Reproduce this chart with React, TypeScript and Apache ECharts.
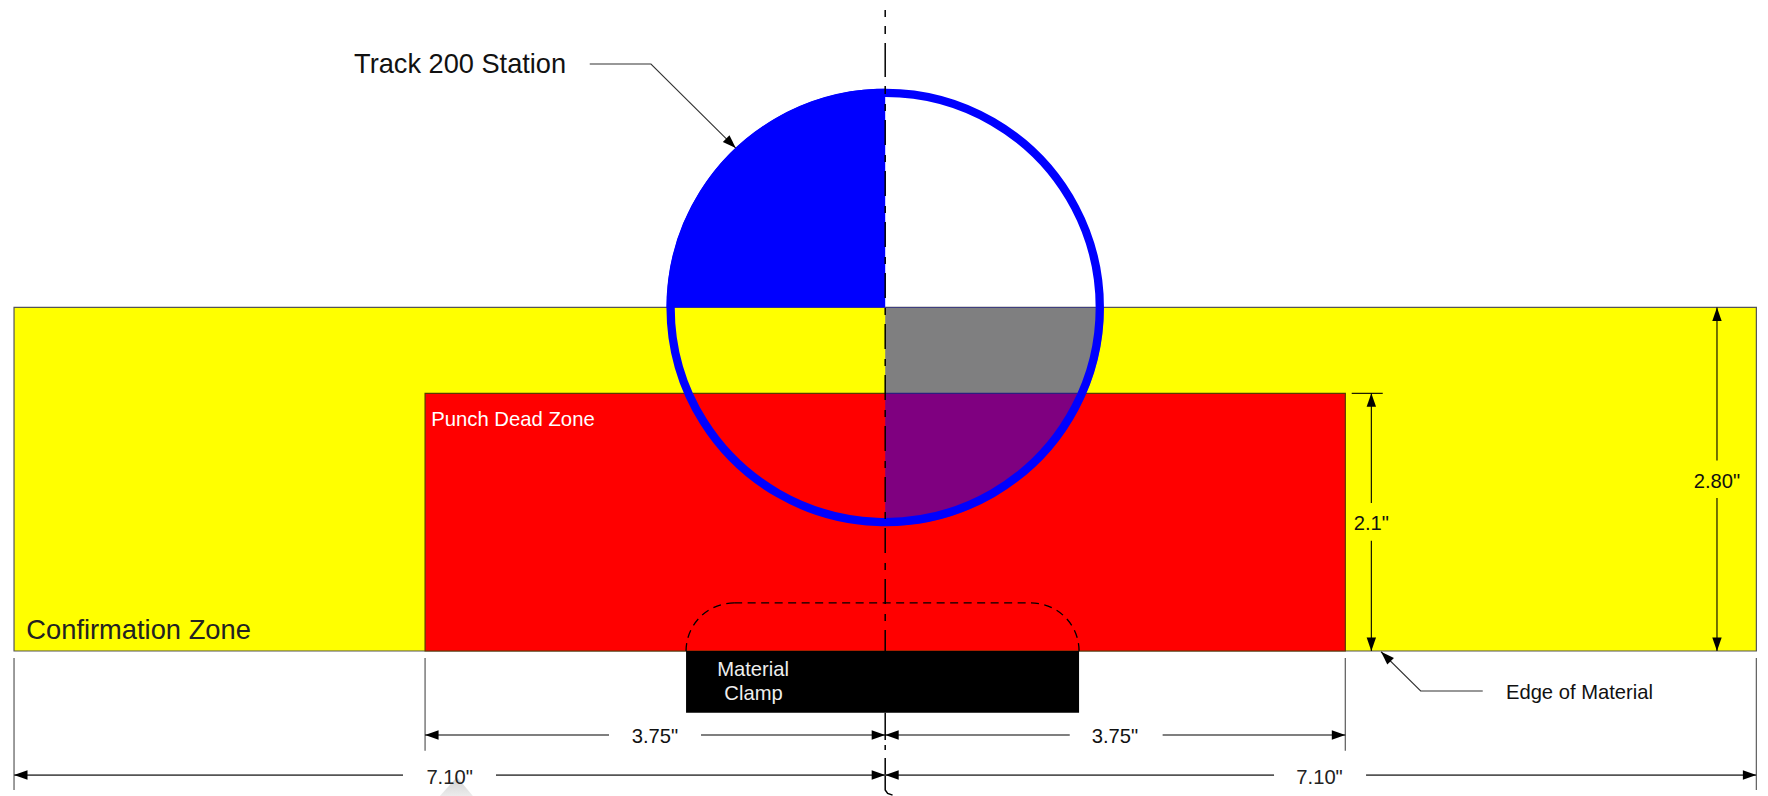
import React, { useEffect, useRef } from "react";
import * as echarts from "echarts";

// All geometry is in inches, measured from the station centre line (x) and the edge of material (y).
const PX_PER_INCH = 122.7;
const ORIGIN_PX = [885.2, 651];
const WIDTH = 1768;
const HEIGHT = 796;

const zoneRects = [
  [-7.1, 0, 7.1, 2.8],
  [-3.75, 0, 3.75, 2.1],
  [-1.623, -0.503, 1.58, 0],
];
const zoneFills = ["#ffff00", "#ff0000", "#000000"];
const zoneBorders = ["#555555", "#5a3a00", "#000000"];

const stationCircle = [0, 2.8, 1.749];
const clampDashed = [-1.623, 1.58, 0, 0.392];

const dimensionLines = [
  { pts: [[-3.75, -0.685], [-2.251, -0.685]], start: true },
  { pts: [[-1.501, -0.685], [0, -0.685]], end: true },
  { pts: [[0, -0.685], [1.504, -0.685]], start: true },
  { pts: [[2.261, -0.685], [3.75, -0.685]], end: true },
  { pts: [[-7.1, -1.011], [-3.93, -1.011]], start: true, grey: true },
  { pts: [[-3.172, -1.011], [0, -1.011]], end: true, grey: true },
  { pts: [[0, -1.011], [3.169, -1.011]], start: true, grey: true },
  { pts: [[3.919, -1.011], [7.1, -1.011]], end: true, grey: true },
  { pts: [[6.779, 2.8], [6.779, 1.553]], start: true },
  { pts: [[6.779, 1.247], [6.779, 0]], end: true },
  { pts: [[3.962, 2.1], [3.962, 1.206]], start: true },
  { pts: [[3.962, 0.899], [3.962, 0]], end: true },
  { pts: [[3.802, 2.1], [4.055, 2.1]] },
  { pts: [[-2.408, 4.784], [-1.909, 4.784], [-1.218, 4.099]], end: true, thin: true },
  { pts: [[4.87, -0.326], [4.364, -0.326], [4.041, -0.006]], end: true, thin: true },
];

const extensionLines = [
  [[-7.1, -0.057], [-7.1, -1.133]],
  [[7.1, -0.057], [7.1, -1.133]],
  [[-3.75, -0.057], [-3.75, -0.813]],
  [[3.75, -0.057], [3.75, -0.813]],
];

const centreLinePieces = [
  [[0, 5.224], [0, 5.167]],
  [[0, 5.094], [0, 5.029]],
  [[0, 4.955], [0, 4.678]],
  [[0, 4.605], [0, 4.54]],
  [[0, 4.458], [0, 4.401]],
  [[0, -0.503], [0, -0.725]],
  [[0, -0.766], [0, -0.807]],
  [[0, -0.872], [0, -1.133], [0.02, -1.16], [0.06, -1.175]],
];
const centreLineDashed = [[0, 4.328], [0, 0]];

const watermark = [[-3.63, -1.182], [-3.49, -1.027], [-3.36, -1.182]];

const labels = ["Track 200 Station", "Confirmation Zone", "Punch Dead Zone", "Material", "Clamp", "Edge of Material", "2.80\"", "2.1\"", "3.75\"", "3.75\"", "7.10\"", "7.10\""];
const labelX = [-4.329, -7.0, -3.7, -1.077, -1.073, 5.059, 6.779, 3.962, -1.876, 1.873, -3.55, 3.54];
const labelY = [4.788, 0.179, 1.887, -0.147, -0.342, -0.332, 1.388, 1.043, -0.689, -0.689, -1.027, -1.027];
const labelSize = [27.2, 27.3, 20.3, 20.2, 20.2, 20.2, 20.2, 20.2, 20.2, 20.2, 20.2, 20.2];
const labelAlign = ["left", "left", "left", "center", "center", "left", "center", "center", "center", "center", "center", "center"];
const labelColor = ["#111111", "#222222", "#ffffff", "#eeeeee", "#eeeeee", "#111111", "#111111", "#111111", "#111111", "#111111", "#222222", "#222222"];

const FONT = '"Liberation Sans", Arial, sans-serif';

const layer = (name: string, data: any[], z: number, renderItem: any) => ({
  type: "custom",
  name,
  data,
  z,
  silent: true,
  clip: false,
  coordinateSystem: "cartesian2d",
  renderItem,
});

const head = (tip: number[], from: number[]) => {
  const dx = tip[0] - from[0];
  const dy = tip[1] - from[1];
  const len = Math.hypot(dx, dy) || 1;
  const ux = dx / len;
  const uy = dy / len;
  const baseX = tip[0] - ux * 13.5;
  const baseY = tip[1] - uy * 13.5;
  return {
    type: "polygon",
    shape: { points: [tip, [baseX - uy * 4.7, baseY + ux * 4.7], [baseX + uy * 4.7, baseY - ux * 4.7]] },
    style: { fill: "#000000" },
  };
};

const buildOption = () => ({
  animation: false,
  backgroundColor: "#ffffff",
  grid: { left: 0, top: 0, width: WIDTH, height: HEIGHT, containLabel: false },
  xAxis: {
    type: "value",
    show: false,
    min: -ORIGIN_PX[0] / PX_PER_INCH,
    max: (WIDTH - ORIGIN_PX[0]) / PX_PER_INCH,
  },
  yAxis: {
    type: "value",
    show: false,
    min: (ORIGIN_PX[1] - HEIGHT) / PX_PER_INCH,
    max: ORIGIN_PX[1] / PX_PER_INCH,
  },
  series: [
    layer("watermark", [0], 1, (_p: any, api: any) => ({
      type: "polygon",
      shape: { points: watermark.map((pt) => api.coord(pt)) },
      style: {
        fill: new echarts.graphic.LinearGradient(0, 0, 0, 1, [
          { offset: 0, color: "#d0d0d0" },
          { offset: 1, color: "#ececec" },
        ]),
      },
    })),
    layer("zones", zoneRects.slice(0, 2), 2, (p: any, api: any) => {
      const a = api.coord([api.value(0), api.value(3)]);
      const b = api.coord([api.value(2), api.value(1)]);
      return {
        type: "rect",
        shape: { x: a[0], y: a[1], width: b[0] - a[0], height: b[1] - a[1] },
        style: { fill: zoneFills[p.dataIndex], stroke: zoneBorders[p.dataIndex], lineWidth: 1.2 },
      };
    }),
    layer("station", [stationCircle], 3, (_p: any, api: any) => {
      const c = api.coord([api.value(0), api.value(1)]);
      const r = api.size([api.value(2), 0])[0];
      const sector = (startAngle: number, endAngle: number, opacity: number) => ({
        type: "sector",
        shape: { cx: c[0], cy: c[1], r: r + 4, r0: 0, startAngle, endAngle, clockwise: true },
        style: { fill: "#0000ff", opacity },
      });
      return {
        type: "group",
        children: [
          sector(Math.PI, Math.PI * 1.5, 1),
          sector(0, Math.PI / 2, 0.5),
          {
            type: "circle",
            shape: { cx: c[0], cy: c[1], r },
            style: { fill: "none", stroke: "#0000ff", lineWidth: 8.3 },
          },
        ],
      };
    }),
    layer("centre line dashed", [0], 4, (_p: any, api: any) => ({
      type: "polyline",
      shape: { points: centreLineDashed.map((pt) => api.coord(pt)) },
      style: { fill: "none", stroke: "#000000", lineWidth: 1.5, lineDash: [25, 10, 7, 9] },
    })),
    layer("clamp outline", [clampDashed], 4, (_p: any, api: any) => {
      const left = api.value(0);
      const right = api.value(1);
      const base = api.value(2);
      const rad = api.value(3);
      const l = api.coord([left + rad, base]);
      const rr = api.coord([right - rad, base]);
      const t = api.coord([left + rad, base + rad]);
      const tr = api.coord([right - rad, base + rad]);
      const rPx = api.size([rad, 0])[0];
      const style = { fill: "none", stroke: "#000000", lineWidth: 1.3, lineDash: [8, 5.5] };
      return {
        type: "group",
        children: [
          { type: "line", shape: { x1: t[0], y1: t[1], x2: tr[0], y2: tr[1] }, style },
          { type: "arc", shape: { cx: l[0], cy: l[1], r: rPx, startAngle: Math.PI, endAngle: Math.PI * 1.5, clockwise: true }, style },
          { type: "arc", shape: { cx: rr[0], cy: rr[1], r: rPx, startAngle: Math.PI * 1.5, endAngle: Math.PI * 2, clockwise: true }, style },
        ],
      };
    }),
    layer("clamp", [zoneRects[2]], 5, (_p: any, api: any) => {
      const a = api.coord([api.value(0), api.value(3)]);
      const b = api.coord([api.value(2), api.value(1)]);
      return {
        type: "rect",
        shape: { x: a[0], y: a[1], width: b[0] - a[0], height: b[1] - a[1] },
        style: { fill: zoneFills[2] },
      };
    }),
    layer("centre line", centreLinePieces.map((_, i) => i), 6, (p: any, api: any) => ({
      type: "polyline",
      shape: { points: centreLinePieces[p.dataIndex].map((pt) => api.coord(pt)) },
      style: { fill: "none", stroke: "#000000", lineWidth: 1.5 },
    })),
    layer("extension lines", extensionLines.map((_, i) => i), 6, (p: any, api: any) => ({
      type: "polyline",
      shape: { points: extensionLines[p.dataIndex].map((pt) => api.coord(pt)) },
      style: { fill: "none", stroke: "#666666", lineWidth: 1.3 },
    })),
    layer("dimensions", dimensionLines.map((_, i) => i), 7, (p: any, api: any) => {
      const d: any = dimensionLines[p.dataIndex];
      const pts = d.pts.map((pt: number[]) => api.coord(pt));
      const children: any[] = [
        {
          type: "polyline",
          shape: { points: pts },
          style: {
            fill: "none",
            stroke: d.grey ? "#555555" : d.thin ? "#333333" : "#000000",
            lineWidth: d.grey ? 1.8 : d.thin ? 1.1 : 1.1,
          },
        },
      ];
      if (d.start) children.push(head(pts[0], pts[1]));
      if (d.end) children.push(head(pts[pts.length - 1], pts[pts.length - 2]));
      return { type: "group", children };
    }),
    layer("labels", labels.map((_, i) => [labelX[i], labelY[i]]), 8, (p: any, api: any) => {
      const c = api.coord([api.value(0), api.value(1)]);
      return {
        type: "text",
        x: c[0],
        y: c[1],
        style: {
          text: labels[p.dataIndex],
          fill: labelColor[p.dataIndex],
          fontSize: labelSize[p.dataIndex],
          fontFamily: FONT,
          align: labelAlign[p.dataIndex],
          verticalAlign: "middle",
        },
      };
    }),
  ],
});

export default function App() {
  const ref = useRef<HTMLDivElement>(null);
  useEffect(() => {
    const chart = echarts.init(ref.current as HTMLDivElement, undefined, { renderer: "svg" });
    chart.setOption(buildOption() as any);
    return () => chart.dispose();
  }, []);
  return <div ref={ref} style={{ position: "absolute", left: 0, top: 0, width: WIDTH, height: HEIGHT }} />;
}
